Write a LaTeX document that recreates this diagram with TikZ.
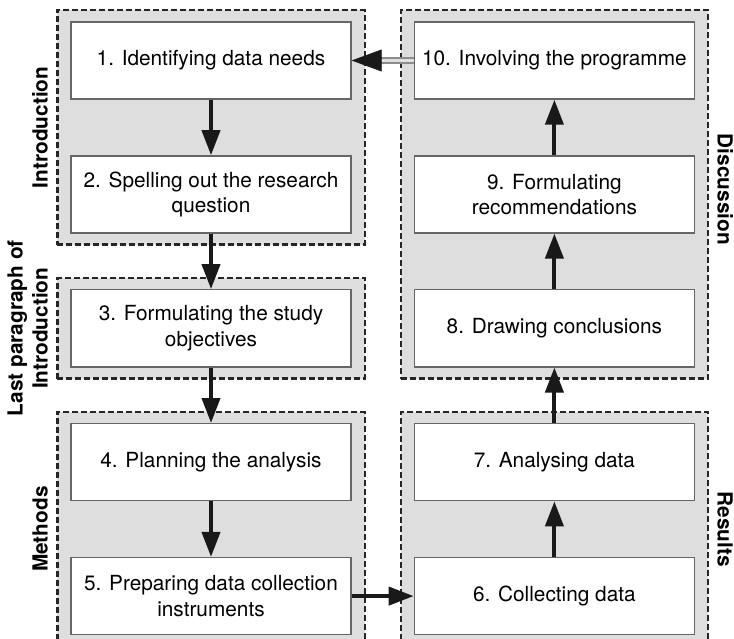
\documentclass[tikz,border=0pt]{standalone}
\usepackage{fontspec}
\setmainfont{TeX Gyre Heros}
\usepackage{tikz}
\usetikzlibrary{arrows.meta, positioning, fit, backgrounds}

\begin{document}
\begin{tikzpicture}[
    node distance=55.5pt and 62pt,
    font=\fontsize{20.8}{25.5}\selectfont,
    stepbox/.style={rectangle, draw=black!60, line width=1.4pt, fill=white, minimum height=77pt, minimum width=280pt, align=center, inner sep=0pt},
    group/.style={draw=black!85, line width=2.4pt, dash pattern=on 6pt off 3pt, fill=black!13, inner xsep=13pt, inner ysep=11pt},
    arrow/.style={-{Triangle[length=25pt, width=18pt]}, line width=4pt, black!90},
    backshaft/.style={draw=black!45, double=black!12, double distance=3.5pt, line width=2pt, shorten >=20pt},
    backtip/.style={-{Triangle[length=30pt, width=22pt, color=black!90, fill=black!90]}, draw=black!12, line width=0.5pt},
    sidelabel/.style={font=\fontsize{20.8}{25}\selectfont\bfseries, inner sep=0pt, align=center}
]
\useasboundingbox (0,0) rectangle (734pt,-639pt);
\node[stepbox] (needs) at (211pt,-60.5pt) {1. Identifying data needs};
\node[stepbox, below=of needs] (question) {2. Spelling out the research\\question};
\node[stepbox, below=of question] (objectives) {3. Formulating the study\\objectives};
\node[stepbox, below=of objectives] (planning) {4. Planning the analysis};
\node[stepbox, below=of planning] (instruments) {5. Preparing data collection\\instruments};
\node[stepbox, right=of instruments] (collecting) {6. Collecting data};
\node[stepbox, above=of collecting] (analysing) {7. Analysing data};
\node[stepbox, above=of analysing] (conclusions) {8. Drawing conclusions};
\node[stepbox, above=of conclusions] (recommend) {9. Formulating\\recommendations};
\node[stepbox, above=of recommend] (programme) {10. Involving the programme};

% dashed grey groups behind the steps
\begin{scope}[on background layer]
\node[group, fit=(needs)(question)] (intro) {};
\node[group, fit=(objectives)] (lastpar) {};
\node[group, fit=(planning)(instruments)] (methods) {};
\node[group, fit=(conclusions)(programme)] (discussion) {};
\node[group, fit=(collecting)(analysing)] (results) {};
\end{scope}

\node[sidelabel, rotate=90, anchor=south] (introlabel) at ([xshift=-8pt]intro.west) {Introduction};
\node[sidelabel, rotate=90, anchor=south] (lastparlabel) at ([xshift=-8pt]lastpar.west) {Last paragraph of\\Introduction};
\node[sidelabel, rotate=90, anchor=south] (methodslabel) at ([xshift=-8pt]methods.west) {Methods};
\node[sidelabel, rotate=-90, anchor=south] (discussionlabel) at ([xshift=8pt, yshift=5pt]discussion.east) {Discussion};
\node[sidelabel, rotate=-90, anchor=south] (resultslabel) at ([xshift=8pt]results.east) {Results};

\draw[arrow] (needs) -- (question);
\draw[arrow] (question) -- (objectives);
\draw[arrow] (objectives) -- (planning);
\draw[arrow] (planning) -- (instruments);
\draw[arrow] (instruments) -- (collecting);
\draw[arrow] (collecting) -- (analysing);
\draw[arrow] (analysing) -- (conclusions);
\draw[arrow] (conclusions) -- (recommend);
\draw[arrow] (recommend) -- (programme);
\draw[backshaft] (programme) -- (needs);
\draw[backtip] (programme) -- (needs);
\end{tikzpicture}
\end{document}
